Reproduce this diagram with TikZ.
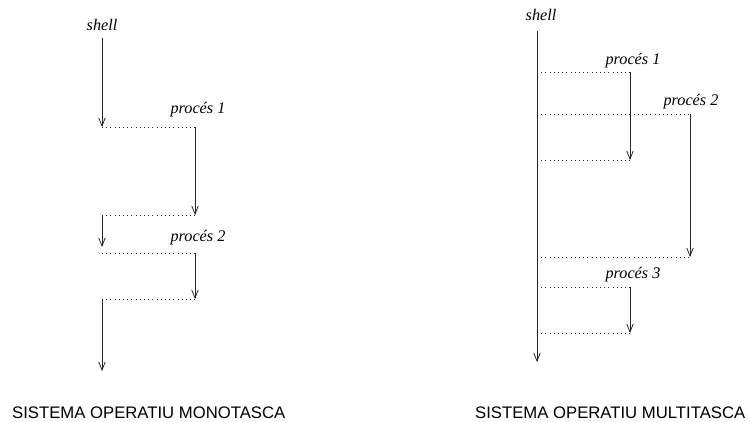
\documentclass[tikz,border=0pt]{standalone}
\usepackage{fontspec}
\setmainfont{Liberation Serif}
\setsansfont{Liberation Sans}
\usetikzlibrary{arrows.meta}
\begin{document}
\begin{tikzpicture}[x=1pt,y=-1pt,
  flow/.style={draw=black!85,line width=0.9pt,-{Straight Barb[length=8pt,width=6.5pt,line width=0.8pt]}},
  solid line/.style={draw=black!85,line width=0.9pt},
  link/.style={draw=black!85,line width=0.9pt,dash pattern=on 1pt off 3.2pt},
  lab/.style={font=\fontsize{16.2}{18}\selectfont\itshape,inner sep=0pt,anchor=base},
  title/.style={font=\fontsize{16.7}{19}\selectfont\sffamily,inner sep=0pt,anchor=base west}]
\useasboundingbox (0,0) rectangle (750,421);

% ---------- single-task system ----------
\node[lab] (mshell) at (102,30) {shell};
\node[lab] (mp1) at (198,113) {procés 1};
\node[lab] (mp2) at (198,241) {procés 2};

\coordinate (ma0) at (102,38);
\coordinate (ma1) at (102,127);
\coordinate (mb0) at (195,127);
\coordinate (mb1) at (195,215);
\coordinate (ma2) at (102,215);
\coordinate (ma3) at (102,247);
\coordinate (ma4) at (102,253);
\coordinate (mc0) at (195,253);
\coordinate (mc1) at (195,299);
\coordinate (ma5) at (102,299);
\coordinate (ma6) at (102,371);

\draw[flow] (ma0) -- (ma1);
\draw[link] (ma1) -- (mb0);
\draw[flow] (mb0) -- (mb1);
\draw[link] (ma2) -- (mb1);
\draw[flow] (ma2) -- (ma3);
\draw[link] (ma4) -- (mc0);
\draw[flow] (mc0) -- (mc1);
\draw[link] (ma5) -- (mc1);
\draw[flow] (ma5) -- (ma6);

\node[title] (mtitle) at (12,418) {SISTEMA OPERATIU MONOTASCA};

% ---------- multitask system ----------
\node[lab] (tshell) at (541,20) {shell};
\node[lab] (tp1) at (633,64) {procés 1};
\node[lab] (tp2) at (691,105) {procés 2};
\node[lab] (tp3) at (633,278) {procés 3};

\coordinate (ta0) at (537,31);
\coordinate (ta1) at (537,362);
\coordinate (tb0) at (630,72);
\coordinate (tb1) at (630,160);
\coordinate (tc0) at (690,114);
\coordinate (tc1) at (690,257);
\coordinate (td0) at (630,287);
\coordinate (td1) at (630,333);

\draw[flow] (ta0) -- (ta1);
\draw[link] (tb0 -| ta0) -- (tb0);
\draw[flow] (tb0) -- (tb1);
\draw[link] (tb1 -| ta0) -- (tb1);
\draw[link] (tc0 -| ta0) -- (tc0);
\draw[flow] (tc0) -- (tc1);
\draw[link] (tc1 -| ta0) -- (tc1);
\draw[link] (td0 -| ta0) -- (td0);
\draw[flow] (td0) -- (td1);
\draw[link] (td1 -| ta0) -- (td1);

\node[title] (ttitle) at (475,418) {SISTEMA OPERATIU MULTITASCA};
\end{tikzpicture}
\end{document}
